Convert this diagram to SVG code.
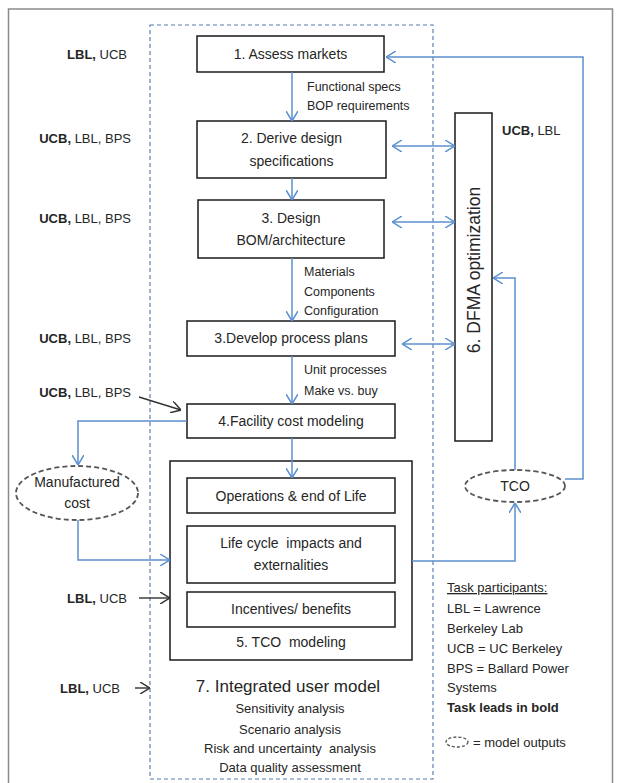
<svg xmlns="http://www.w3.org/2000/svg" width="621" height="783" viewBox="0 0 621 783">
  <style>
    text { font-family: "Liberation Sans", Arial, sans-serif; fill: #262626; white-space: pre; }
    .box { fill: #ffffff; stroke: #1a1a1a; stroke-width: 1.5; }
    .lbl { font-size: 14px; text-anchor: middle; }
    .side { font-size: 13px; text-anchor: end; }
    .note { font-size: 12.5px; }
    .leg { font-size: 13px; }
    .flow { fill: none; stroke: #5b8fd0; stroke-width: 1.5; }
    .ink { fill: none; stroke: #333333; stroke-width: 1.4; }
    .out { fill: #ffffff; stroke: #555555; stroke-width: 1.8; stroke-dasharray: 5 3; }
    .b { font-weight: bold; }
  </style>
  <defs>
    <marker id="ab" viewBox="0 0 10 12" refX="10" refY="6" markerWidth="10" markerHeight="12" markerUnits="userSpaceOnUse" orient="auto-start-reverse">
      <path d="M0,0 L10,6 L0,12" fill="none" stroke="#5b8fd0" stroke-width="1.5"/>
    </marker>
    <marker id="ak" viewBox="0 0 10 12" refX="10" refY="6" markerWidth="10" markerHeight="12" markerUnits="userSpaceOnUse" orient="auto">
      <path d="M0,0 L10,6 L0,12" fill="none" stroke="#333333" stroke-width="1.5"/>
    </marker>
  </defs>

  <rect x="0" y="0" width="621" height="783" fill="#ffffff"/>
  <!-- page frame -->
  <rect x="8.5" y="9" width="604" height="790" fill="none" stroke="#8a8a8a" stroke-width="1.5"/>
  <!-- integrated user model boundary -->
  <rect id="integrated-model" x="150" y="25" width="283" height="754" fill="none" stroke="#5b7fb0" stroke-width="1.2" stroke-dasharray="4 3"/>

  <g id="assess-markets">
    <rect class="box" x="197" y="36" width="187" height="36"/>
    <text class="lbl" x="290.5" y="59">1. Assess markets</text>
  </g>
  <g id="derive-specs">
    <rect class="box" x="197" y="121" width="189" height="57"/>
    <text class="lbl" x="291.5" y="143">2. Derive design</text>
    <text class="lbl" x="291.5" y="166">specifications</text>
  </g>
  <g id="design-bom">
    <rect class="box" x="198" y="200" width="186" height="58"/>
    <text class="lbl" x="291" y="223">3. Design</text>
    <text class="lbl" x="291" y="245">BOM/architecture</text>
  </g>
  <g id="process-plans">
    <rect class="box" x="187" y="321" width="208" height="35"/>
    <text class="lbl" x="291" y="343">3.Develop process plans</text>
  </g>
  <g id="facility-cost">
    <rect class="box" x="187" y="404" width="208" height="34"/>
    <text class="lbl" x="291" y="426">4.Facility cost modeling</text>
  </g>
  <g id="tco-modeling">
    <rect class="box" x="170" y="461" width="242" height="199"/>
    <text class="lbl" x="291" y="647">5. TCO  modeling</text>
  </g>
  <g id="operations">
    <rect class="box" x="187" y="478" width="208" height="35"/>
    <text class="lbl" x="291" y="501">Operations &amp; end of Life</text>
  </g>
  <g id="life-cycle">
    <rect class="box" x="187" y="526" width="208" height="57"/>
    <text class="lbl" x="291" y="548">Life cycle  impacts and</text>
    <text class="lbl" x="291" y="570">externalities</text>
  </g>
  <g id="incentives">
    <rect class="box" x="187" y="592" width="208" height="35"/>
    <text class="lbl" x="291" y="614">Incentives/ benefits</text>
  </g>
  <g id="dfma">
    <rect class="box" x="455" y="113" width="37" height="328"/>
    <text class="lbl" x="0" y="0" transform="translate(480,270) rotate(-90)" style="font-size:17.5px">6. DFMA optimization</text>
  </g>
  <g id="manufactured-cost">
    <ellipse class="out" cx="77" cy="493" rx="61" ry="27"/>
    <text class="lbl" x="77" y="487">Manufactured</text>
    <text class="lbl" x="77" y="508">cost</text>
  </g>
  <g id="tco">
    <ellipse class="out" cx="515" cy="486" rx="50" ry="16"/>
    <text class="lbl" x="515" y="491">TCO</text>
  </g>

  <g id="connectors">
    <!-- main flow -->
    <line class="flow" x1="292" y1="72" x2="292" y2="121" marker-end="url(#ab)"/>
    <line class="flow" x1="292" y1="178" x2="292" y2="200" marker-end="url(#ab)"/>
    <line class="flow" x1="292" y1="258" x2="292" y2="321" marker-end="url(#ab)"/>
    <line class="flow" x1="292" y1="356" x2="292" y2="404" marker-end="url(#ab)"/>
    <line class="flow" x1="292" y1="438" x2="292" y2="478" marker-end="url(#ab)"/>
    <!-- DFMA exchanges -->
    <line class="flow" x1="392" y1="146" x2="455" y2="146" marker-start="url(#ab)" marker-end="url(#ab)"/>
    <line class="flow" x1="392" y1="222" x2="455" y2="222" marker-start="url(#ab)" marker-end="url(#ab)"/>
    <line class="flow" x1="402" y1="344" x2="455" y2="344" marker-start="url(#ab)" marker-end="url(#ab)"/>
    <!-- TCO feedback -->
    <polyline class="flow" points="515,470 515,278 493,278" marker-end="url(#ab)"/>
    <polyline class="flow" points="565,479 583,479 583,57 386,57" marker-end="url(#ab)"/>
    <polyline class="flow" points="412,561 515,561 515,503" marker-end="url(#ab)"/>
    <!-- manufactured cost -->
    <polyline class="flow" points="187,421 78,421 78,465" marker-end="url(#ab)"/>
    <polyline class="flow" points="78,520 78,560 170,560" marker-end="url(#ab)"/>
    <!-- participant inputs -->
    <line class="ink" x1="139" y1="397" x2="181" y2="410" marker-end="url(#ak)"/>
    <line class="ink" x1="139" y1="598" x2="170" y2="598" marker-end="url(#ak)"/>
    <line class="ink" x1="135" y1="688" x2="150" y2="688" marker-end="url(#ak)"/>
  </g>

  <g id="flow-notes" class="note">
    <text x="307" y="91">Functional specs</text>
    <text x="307" y="110">BOP requirements</text>
    <text x="304" y="276">Materials</text>
    <text x="304" y="296">Components</text>
    <text x="304" y="315">Configuration</text>
    <text x="304" y="374">Unit processes</text>
    <text x="304" y="395">Make vs. buy</text>
  </g>

  <g id="participants">
    <text class="side" x="127" y="59"><tspan class="b">LBL,</tspan> UCB</text>
    <text class="side" x="131" y="143"><tspan class="b">UCB,</tspan> LBL, BPS</text>
    <text class="side" x="131" y="223"><tspan class="b">UCB,</tspan> LBL, BPS</text>
    <text class="side" x="131" y="343"><tspan class="b">UCB,</tspan> LBL, BPS</text>
    <text class="side" x="131" y="397"><tspan class="b">UCB,</tspan> LBL, BPS</text>
    <text class="side" x="127" y="603"><tspan class="b">LBL,</tspan> UCB</text>
    <text class="side" x="120" y="693"><tspan class="b">LBL,</tspan> UCB</text>
    <text style="font-size:13px" x="502" y="135"><tspan class="b">UCB,</tspan> LBL</text>
  </g>

  <g id="user-model">
    <text class="lbl" x="288" y="692" style="font-size:17px">7. Integrated user model</text>
    <text class="lbl" x="290" y="713" style="font-size:13px">Sensitivity analysis</text>
    <text class="lbl" x="290" y="734" style="font-size:13px">Scenario analysis</text>
    <text class="lbl" x="290" y="753" style="font-size:13px">Risk and uncertainty  analysis</text>
    <text class="lbl" x="290" y="772" style="font-size:13px">Data quality assessment</text>
  </g>

  <g id="legend" class="leg">
    <text x="447" y="592" text-decoration="underline">Task participants:</text>
    <text x="447" y="613">LBL = Lawrence</text>
    <text x="447" y="633">Berkeley Lab</text>
    <text x="447" y="653">UCB = UC Berkeley</text>
    <text x="447" y="673">BPS = Ballard Power</text>
    <text x="447" y="692">Systems</text>
    <text x="447" y="712" class="b">Task leads in bold</text>
    <ellipse cx="457" cy="742" rx="11" ry="5" fill="none" stroke="#555555" stroke-width="1.3" stroke-dasharray="3 2"/>
    <text x="473" y="747">= model outputs</text>
  </g>
</svg>
